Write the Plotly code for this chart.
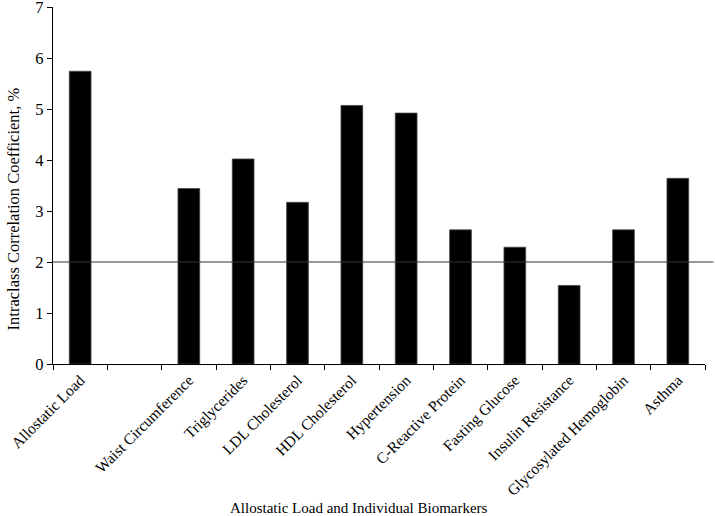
import plotly.graph_objects as go

categories = ["Allostatic Load", " ", "Waist Circumference", "Triglycerides", "LDL Cholesterol",
              "HDL Cholesterol", "Hypertension", "C-Reactive Protein", "Fasting Glucose",
              "Insulin Resistance", "Glycosylated Hemoglobin", "Asthma"]
icc_values = [5.74, None, 3.44, 4.02, 3.17, 5.07, 4.92, 2.63, 2.29, 1.54, 2.63, 3.64]
reference_level = 2
y_ticks = [0, 1, 2, 3, 4, 5, 6, 7]

FONT = "Liberation Serif"

fig = go.Figure()
fig.add_trace(go.Bar(
    x=categories, y=icc_values,
    marker=dict(color="black", line=dict(color="#444", width=0.8)),
    width=0.4, showlegend=False,
))

fig.add_shape(type="line", xref="paper", yref="y", x0=0, x1=1.013,
              y0=reference_level, y1=reference_level,
              line=dict(color="#333", width=1.2))

fig.update_layout(
    width=715, height=516,
    margin=dict(l=53, r=10, t=7, b=152),
    paper_bgcolor="white", plot_bgcolor="white",
    font=dict(family=FONT, color="black"),
    xaxis=dict(
        type="category", categoryorder="array", categoryarray=categories,
        tickangle=-45, tickfont=dict(size=15.5, family=FONT, color="black"),
        ticks="outside", ticklen=5, tickcolor="black", tickson="boundaries",
        showline=True, linecolor="black", linewidth=1.2, showgrid=False,
        range=[-0.5, len(categories) - 0.5], automargin=False,
        ticklabeloverflow="allow",
    ),
    yaxis=dict(
        range=[0, 7], tickvals=y_ticks, ticktext=[str(v) for v in y_ticks],
        tickfont=dict(size=16.5, family=FONT, color="black"),
        ticks="outside", ticklen=5, tickcolor="black",
        showline=True, linecolor="black", linewidth=1.2, showgrid=False,
        zeroline=False, automargin=False, ticklabeloverflow="allow",
    ),
    annotations=[
        dict(text="Intraclass Correlation Coefficient, %", textangle=-90,
             xref="paper", yref="paper", x=-0.0603, y=0.435,
             xanchor="center", yanchor="middle", showarrow=False,
             font=dict(size=16.5, family=FONT, color="black")),
        dict(text="Allostatic Load and Individual Biomarkers",
             xref="paper", yref="paper", x=0.47, y=-0.402,
             xanchor="center", yanchor="middle", showarrow=False,
             font=dict(size=15, family=FONT, color="black")),
    ],
)

fig.write_html("out.html", config={"displayModeBar": False},
               post_script="document.body.style.margin='0';")
